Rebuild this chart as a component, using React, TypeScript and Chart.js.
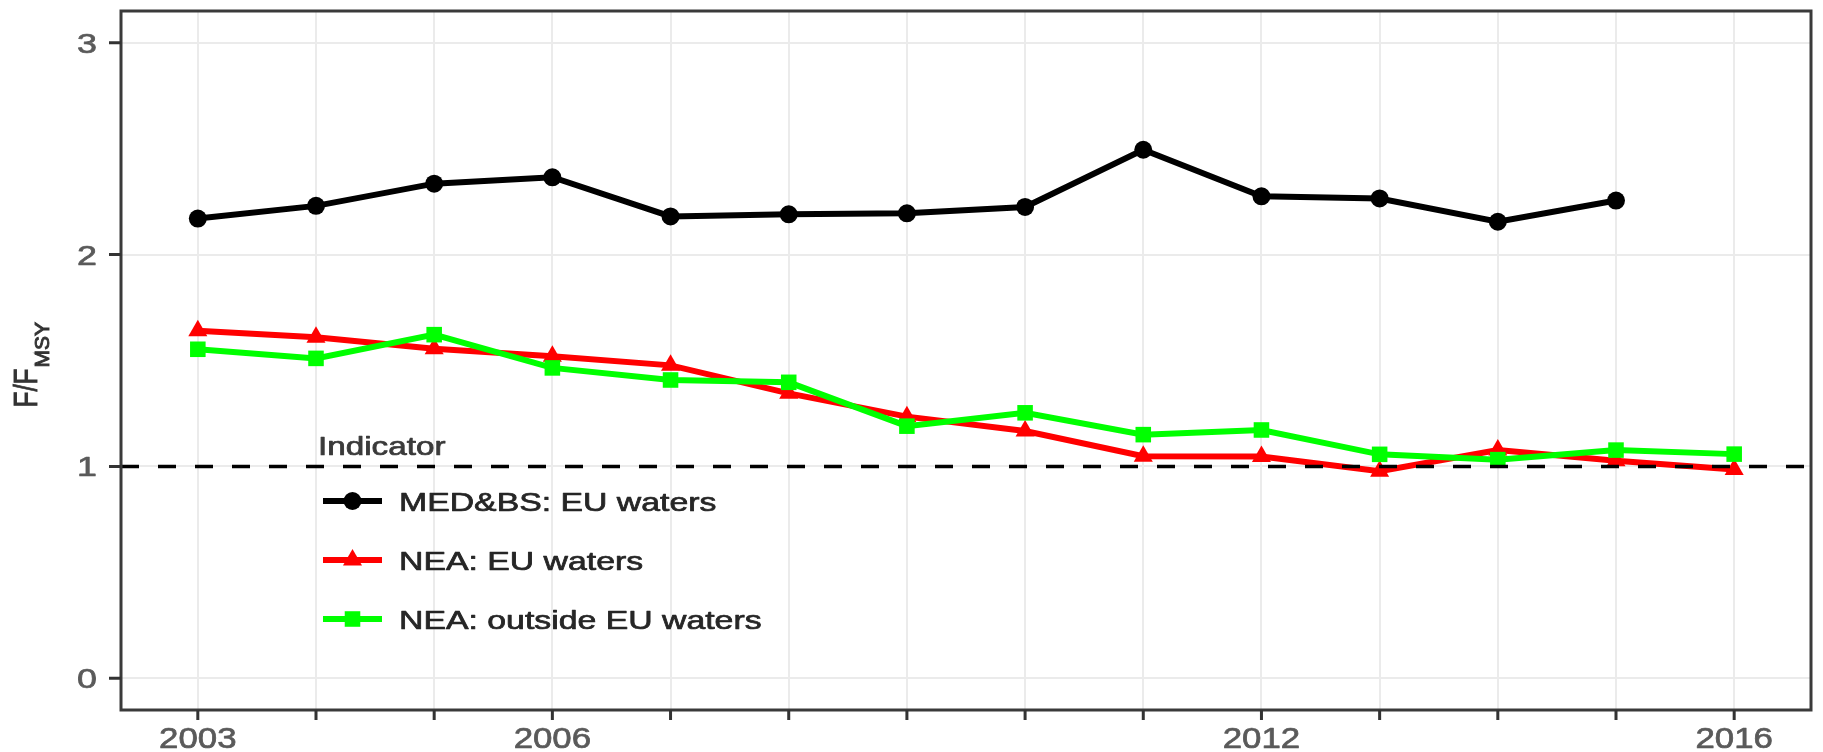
import React, { useEffect, useRef } from 'react';
import { Chart, registerables } from 'chart.js';

Chart.register(...registerables);

// ---- data ----
const years = [2003, 2004, 2005, 2006, 2007, 2008, 2009, 2010, 2011, 2012, 2013, 2014, 2015, 2016];
const medYears = [2003, 2004, 2005, 2006, 2007, 2008, 2009, 2010, 2011, 2012, 2013, 2014, 2015];
const medValues = [2.17, 2.23, 2.335, 2.365, 2.18, 2.19, 2.195, 2.225, 2.495, 2.275, 2.265, 2.155, 2.255];
const neaEuValues = [1.64, 1.61, 1.555, 1.52, 1.477, 1.345, 1.235, 1.167, 1.048, 1.047, 0.977, 1.077, 1.027, 0.985];
const neaOutValues = [1.553, 1.51, 1.622, 1.465, 1.408, 1.397, 1.19, 1.253, 1.15, 1.172, 1.057, 1.032, 1.077, 1.058];
const xTickLabels = [2003, 2006, 2012, 2016];
const yTicks = [0, 1, 2, 3];
const referenceLevel = 1;
const legendTitle = 'Indicator';
const seriesNames = ['MED&BS: EU waters', 'NEA: EU waters', 'NEA: outside EU waters'];
const seriesColors = ['#000000', '#ff0000', '#00ff00'];
const seriesShapes = ['circle', 'triangle', 'rect'];

const FONT = '"Liberation Sans", Arial, Helvetica, sans-serif';

function txt(ctx: CanvasRenderingContext2D, s: string, x: number, y: number, size: number, sx: number, align: CanvasTextAlign, color: string) {
  ctx.save();
  ctx.translate(x, y);
  ctx.scale(sx, 1);
  ctx.font = `${size}px ${FONT}`;
  ctx.fillStyle = color;
  ctx.strokeStyle = color;
  ctx.lineWidth = 0.7;
  ctx.lineJoin = 'round';
  ctx.textAlign = align;
  ctx.textBaseline = 'alphabetic';
  ctx.fillText(s, 0, 0);
  ctx.strokeText(s, 0, 0);
  ctx.restore();
}

function marker(ctx: CanvasRenderingContext2D, shape: string, x: number, y: number, r: number, color: string) {
  ctx.save();
  ctx.fillStyle = color;
  ctx.beginPath();
  if (shape === 'circle') {
    ctx.arc(x, y, r, 0, Math.PI * 2);
  } else if (shape === 'triangle') {
    ctx.moveTo(x, y - r);
    ctx.lineTo(x + r * 0.866, y + r * 0.5);
    ctx.lineTo(x - r * 0.866, y + r * 0.5);
    ctx.closePath();
  } else {
    const h = r * Math.SQRT1_2;
    ctx.rect(x - h, y - h, 2 * h, 2 * h);
  }
  ctx.fill();
  ctx.restore();
}

const ggPlugin = {
  id: 'ggDecor',
  afterDatasetsDraw(chart: any) {
    const ctx: CanvasRenderingContext2D = chart.ctx;
    const { left, right } = chart.chartArea;
    const y = chart.scales.y.getPixelForValue(referenceLevel);
    ctx.save();
    ctx.strokeStyle = '#000';
    ctx.lineWidth = 3.5;
    ctx.setLineDash([18, 19]);
    ctx.beginPath();
    ctx.moveTo(left, y);
    ctx.lineTo(right, y);
    ctx.stroke();
    ctx.restore();
  },
  afterDraw(chart: any) {
    const ctx: CanvasRenderingContext2D = chart.ctx;
    const { left, right, top, bottom } = chart.chartArea;
    const xs = chart.scales.x;
    const ys = chart.scales.y;

    // panel border
    ctx.save();
    ctx.strokeStyle = '#3a3a3a';
    ctx.lineWidth = 3;
    ctx.strokeRect(left, top, right - left, bottom - top);

    // tick marks
    ctx.lineWidth = 3;
    ctx.strokeStyle = '#333';
    ctx.beginPath();
    years.forEach((v) => {
      const px = xs.getPixelForValue(v);
      ctx.moveTo(px, bottom);
      ctx.lineTo(px, bottom + 10);
    });
    yTicks.forEach((v) => {
      const py = ys.getPixelForValue(v);
      ctx.moveTo(left - 12, py);
      ctx.lineTo(left, py);
    });
    ctx.stroke();
    ctx.restore();

    // tick labels
    xTickLabels.forEach((v) => {
      txt(ctx, String(v), xs.getPixelForValue(v), bottom + 38, 29, 1.2, 'center', '#5a5a5a');
    });
    yTicks.forEach((v) => {
      txt(ctx, String(v), left - 24, ys.getPixelForValue(v) + 10, 28, 1.28, 'right', '#5a5a5a');
    });

    // y title F/F_MSY
    const cy = (top + bottom) / 2;
    ctx.save();
    ctx.translate(37, cy + 47);
    ctx.rotate(-Math.PI / 2);
    ctx.scale(1, 1.3);
    ctx.fillStyle = '#333';
    ctx.strokeStyle = '#333';
    ctx.lineWidth = 0.7;
    ctx.textBaseline = 'alphabetic';
    ctx.textAlign = 'left';
    ctx.font = `26px ${FONT}`;
    ctx.fillText('F/F', 0, 0);
    ctx.strokeText('F/F', 0, 0);
    const w = ctx.measureText('F/F').width;
    ctx.save();
    ctx.translate(w + 1, 9);
    ctx.scale(1.4, 1);
    ctx.font = `15px ${FONT}`;
    ctx.fillText('MSY', 0, 0);
    ctx.strokeText('MSY', 0, 0);
    ctx.restore();
    ctx.restore();

    // legend
    txt(ctx, legendTitle, 318, 455, 25, 1.33, 'left', '#3a3a3a');
    const rows = [501, 560, 619];
    const radii = [9, 11, 11];
    seriesNames.forEach((name, i) => {
      const ry = rows[i];
      ctx.save();
      ctx.strokeStyle = seriesColors[i];
      ctx.lineWidth = 6;
      ctx.beginPath();
      ctx.moveTo(323, ry);
      ctx.lineTo(382, ry);
      ctx.stroke();
      ctx.restore();
      marker(ctx, seriesShapes[i], 352.5, ry, radii[i], seriesColors[i]);
      txt(ctx, name, 399, ry + 9.5, 26, 1.3, 'left', '#262626');
    });
  },
};

export default function App() {
  const ref = useRef<HTMLCanvasElement>(null);
  useEffect(() => {
    if (!ref.current) return;
    const medData = medYears.map((yr, i) => ({ x: yr, y: medValues[i] }));
    const euData = years.map((yr, i) => ({ x: yr, y: neaEuValues[i] }));
    const outData = years.map((yr, i) => ({ x: yr, y: neaOutValues[i] }));
    const gridCfg = { color: '#ebebeb', lineWidth: 2, drawTicks: false };
    const chart = new Chart(ref.current, {
      type: 'line',
      data: {
        datasets: [
          {
            label: seriesNames[0], data: medData, borderColor: seriesColors[0], backgroundColor: seriesColors[0],
            borderWidth: 6, pointStyle: 'circle', pointRadius: 9, pointBorderWidth: 0, order: 2, tension: 0,
          },
          {
            label: seriesNames[1], data: euData, borderColor: seriesColors[1], backgroundColor: seriesColors[1],
            borderWidth: 6, pointStyle: 'triangle', pointRadius: 11, pointBorderWidth: 0, order: 1, tension: 0,
          },
          {
            label: seriesNames[2], data: outData, borderColor: seriesColors[2], backgroundColor: seriesColors[2],
            borderWidth: 6, pointStyle: 'rect', pointRadius: 11, pointBorderWidth: 0, order: 0, tension: 0,
          },
        ],
      },
      options: {
        responsive: false,
        animation: false,
        devicePixelRatio: 1,
        layout: { padding: { top: 6, right: 12, left: 0, bottom: 0 } },
        plugins: { legend: { display: false }, tooltip: { enabled: false }, title: { display: false } },
        events: [],
        scales: {
          x: {
            type: 'linear', min: 2002.35, max: 2016.65,
            afterBuildTicks: (s: any) => { s.ticks = years.map((v) => ({ value: v })); },
            afterFit: (s: any) => { s.height = 42; },
            ticks: { display: false },
            grid: gridCfg,
            border: { display: false },
          },
          y: {
            type: 'linear', min: -0.15, max: 3.15,
            afterBuildTicks: (s: any) => { s.ticks = yTicks.map((v) => ({ value: v })); },
            afterFit: (s: any) => { s.width = 121; },
            ticks: { display: false },
            grid: gridCfg,
            border: { display: false },
          },
        },
      } as any,
      plugins: [ggPlugin],
    });
    return () => chart.destroy();
  }, []);
  return (
    <div style={{ position: 'fixed', left: 0, top: 0, width: 1823, height: 752, background: '#fff' }}>
      <canvas ref={ref} width={1823} height={752} style={{ display: 'block', width: 1823, height: 752 }} />
    </div>
  );
}
